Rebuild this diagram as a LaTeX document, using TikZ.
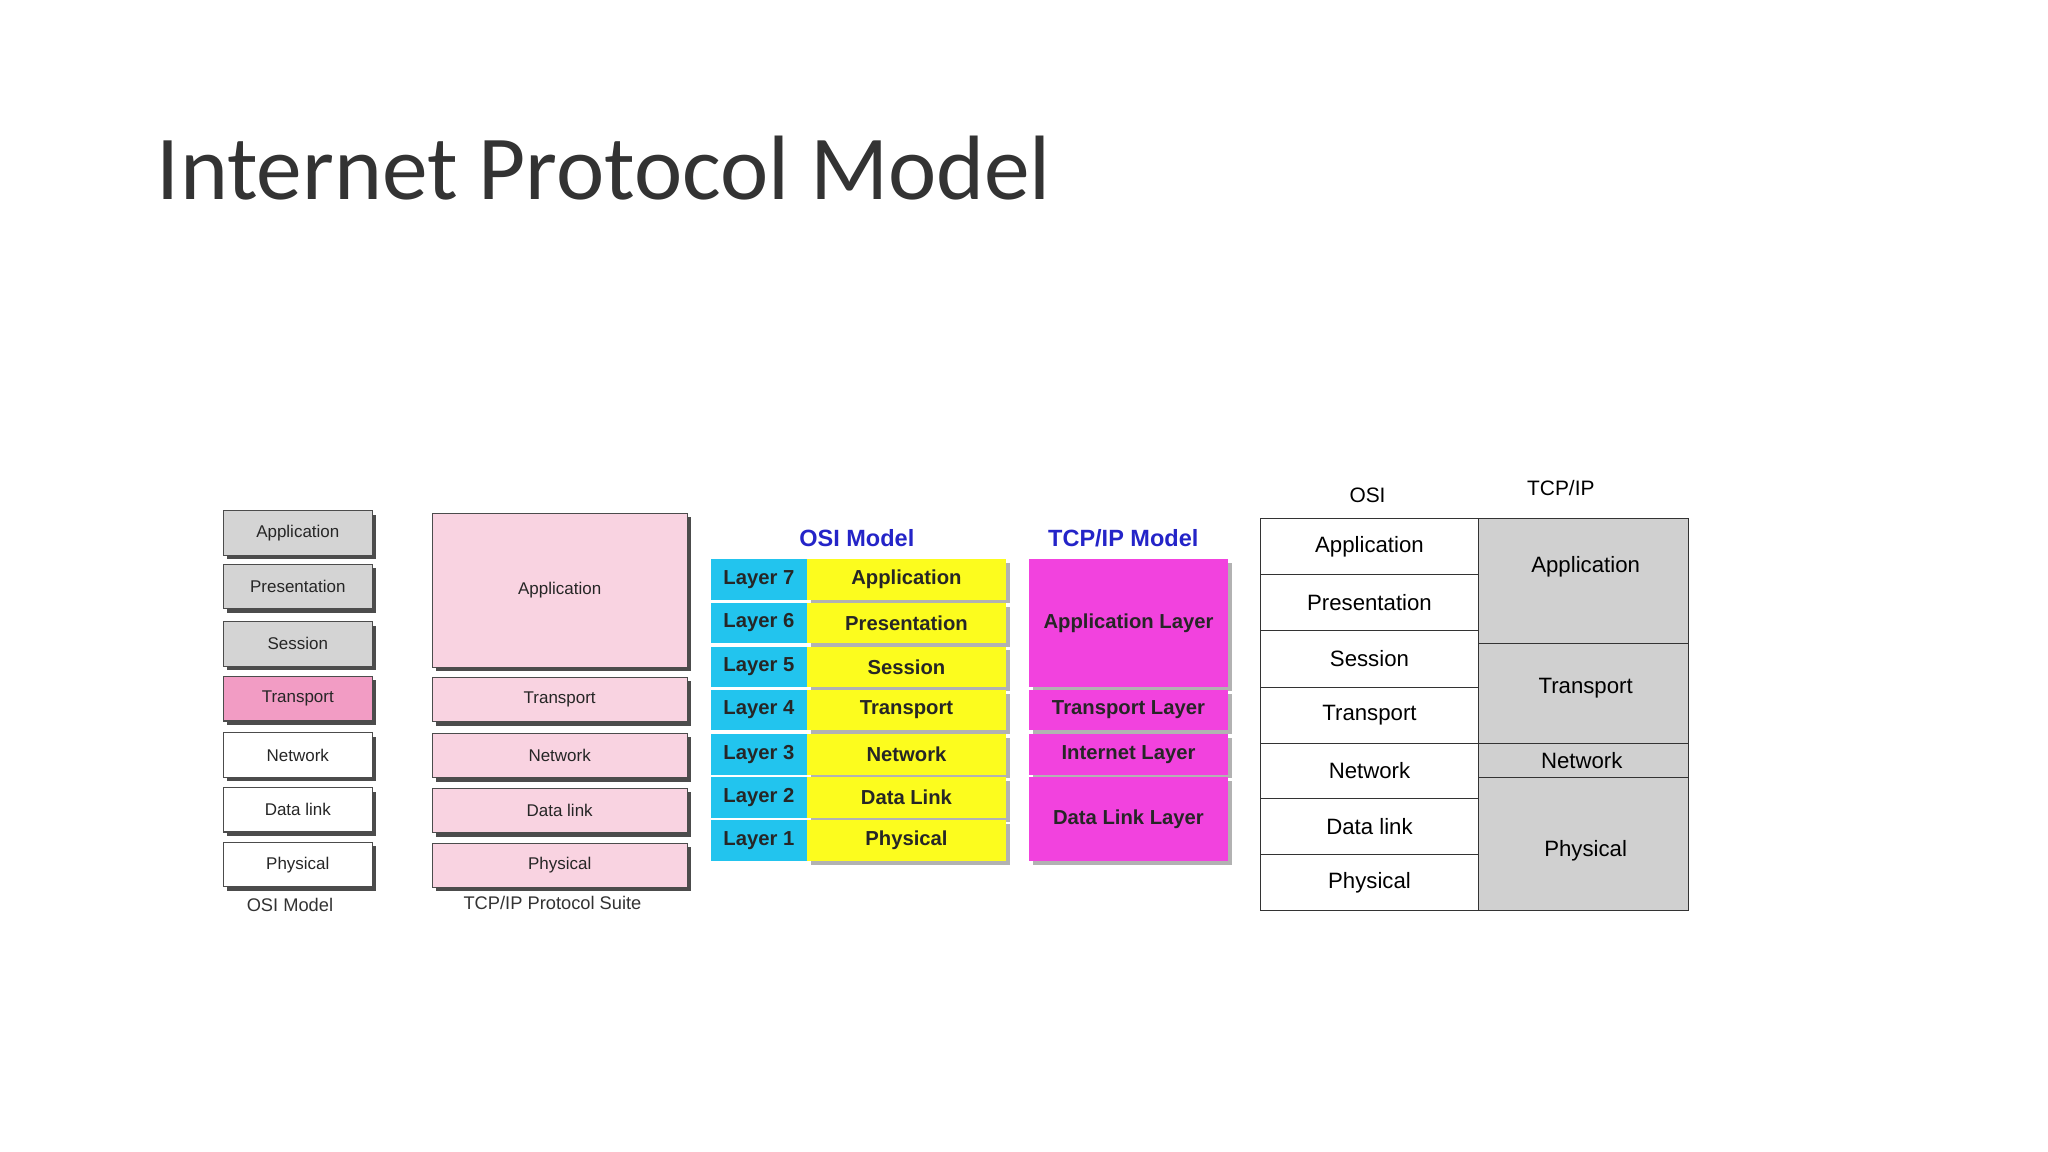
\documentclass[tikz,border=0pt]{standalone}
\usepackage{fontspec}
\setmainfont{Liberation Sans}
\newfontfamily\titlefont{Carlito}
\usetikzlibrary{shadows}
\definecolor{gbox}{HTML}{D4D4D4}
\definecolor{pinkA}{HTML}{F29CC4}
\definecolor{pinkL}{HTML}{F9D3E1}
\definecolor{cyanL}{HTML}{22C4EE}
\definecolor{yelL}{HTML}{FCFC1E}
\definecolor{magL}{HTML}{F242DE}
\definecolor{tblue}{HTML}{2424C8}
\definecolor{tgray}{HTML}{D0D0D0}
\begin{document}
\begin{tikzpicture}[x=1pt,y=-1pt,
  lbox/.style={draw=black!70,line width=0.8pt,minimum height=34pt,inner sep=0pt,
    font=\fontsize{13}{15}\selectfont,text=black!85,
    drop shadow={shadow xshift=3pt,shadow yshift=-3pt,fill=black!70,opacity=1}},
  cbox/.style={inner sep=0pt,minimum height=31pt,font=\bfseries\fontsize{15.5}{18}\selectfont,text=black!85,
    drop shadow={shadow xshift=3pt,shadow yshift=-3pt,fill=black!30,opacity=1}},
  captxt/.style={font=\fontsize{14}{16}\selectfont,text=black!80}]
\useasboundingbox (0,0) rectangle (1568,882);
\fill[white] (0,0) rectangle (1568,882);
\node[anchor=base west,inner sep=0pt,font=\titlefont\fontsize{70}{74}\selectfont,text=black!80] (title) at (120,153) {Internet Protocol Model};
% OSI model (left)
\foreach \n/\t/\y/\c in {o1/Application/408/gbox,o2/Presentation/449/gbox,o3/Session/493/gbox,o4/Transport/535/pinkA,o5/Network/578/white,o6/Data link/620/white,o7/Physical/662/white}
  \node[lbox,fill=\c,minimum width=114pt] (\n) at (228,\y) {\t};
\node[captxt] (oc) at (222,693) {OSI Model};
% TCP/IP protocol suite
\node[lbox,fill=pinkL,minimum width=195pt,minimum height=118pt] (p1) at (428.5,452) {Application};
\foreach \n/\t/\y in {p2/Transport/535.5,p3/Network/578.5,p4/Data link/620.5,p5/Physical/662.5}
  \node[lbox,fill=pinkL,minimum width=195pt] (\n) at (428.5,\y) {\t};
\node[captxt] (pc) at (423,691) {TCP/IP Protocol Suite};
% OSI Model coloured
\node[font=\bfseries\fontsize{18}{20}\selectfont,text=tblue] (ot) at (656,412) {OSI Model};
\foreach \i/\t/\y in {7/Application/443.5,6/Presentation/477,5/Session/510.5,4/Transport/543.5,3/Network/577.5,2/Data Link/610.5,1/Physical/643.5}{
  \node[cbox,fill=yelL,minimum width=152pt] (y\i) at (694,\y) {\t};
  \node[inner sep=0pt,minimum height=31pt,minimum width=74pt,fill=cyanL,font=\bfseries\fontsize{15.5}{18}\selectfont,text=black!85] (l\i) at (581,\y) {Layer \i};
}
% TCP/IP model coloured
\node[font=\bfseries\fontsize{18}{20}\selectfont,text=tblue] (tt) at (860,412) {TCP/IP Model};
\node[cbox,fill=magL,minimum width=152pt,minimum height=98pt] (m1) at (864,477) {Application Layer};
\node[cbox,fill=magL,minimum width=152pt] (m2) at (864,543.5) {Transport Layer};
\node[cbox,fill=magL,minimum width=152pt] (m3) at (864,577.5) {Internet Layer};
\node[cbox,fill=magL,minimum width=152pt,minimum height=64pt] (m4) at (864,627) {Data Link Layer};
% Right table
\node[font=\fontsize{16}{18}\selectfont] (h1) at (1047,379) {OSI};
\node[font=\fontsize{16}{18}\selectfont] (h2) at (1195,374) {TCP/IP};
\foreach \n/\t/\a/\b in {r1/Application/397/440,r2/Presentation/440/483,r3/Session/483/526,r4/Transport/526/569,r5/Network/569/611,r6/Data link/611/654,r7/Physical/654/697}
  \draw[draw=black!80,line width=0.8pt,fill=white] (965,\a) rectangle (1132,\b) node[midway,font=\fontsize{17}{20}\selectfont] (\n) {\t};
\draw[draw=black!80,line width=0.8pt,fill=tgray] (1132,397) rectangle (1293,493);
\node[font=\fontsize{17}{20}\selectfont] (s1) at (1214,434) {Application};
\draw[draw=black!80,line width=0.8pt,fill=tgray] (1132,493) rectangle (1293,569);
\node[font=\fontsize{17}{20}\selectfont] (s2) at (1214,527) {Transport};
\draw[draw=black!80,line width=0.8pt,fill=tgray] (1132,569) rectangle (1293,595);
\node[font=\fontsize{17}{20}\selectfont] (s3) at (1211,582) {Network};
\draw[draw=black!80,line width=0.8pt,fill=tgray] (1132,595) rectangle (1293,697);
\node[font=\fontsize{17}{20}\selectfont] (s4) at (1214,651) {Physical};
\end{tikzpicture}
\end{document}
